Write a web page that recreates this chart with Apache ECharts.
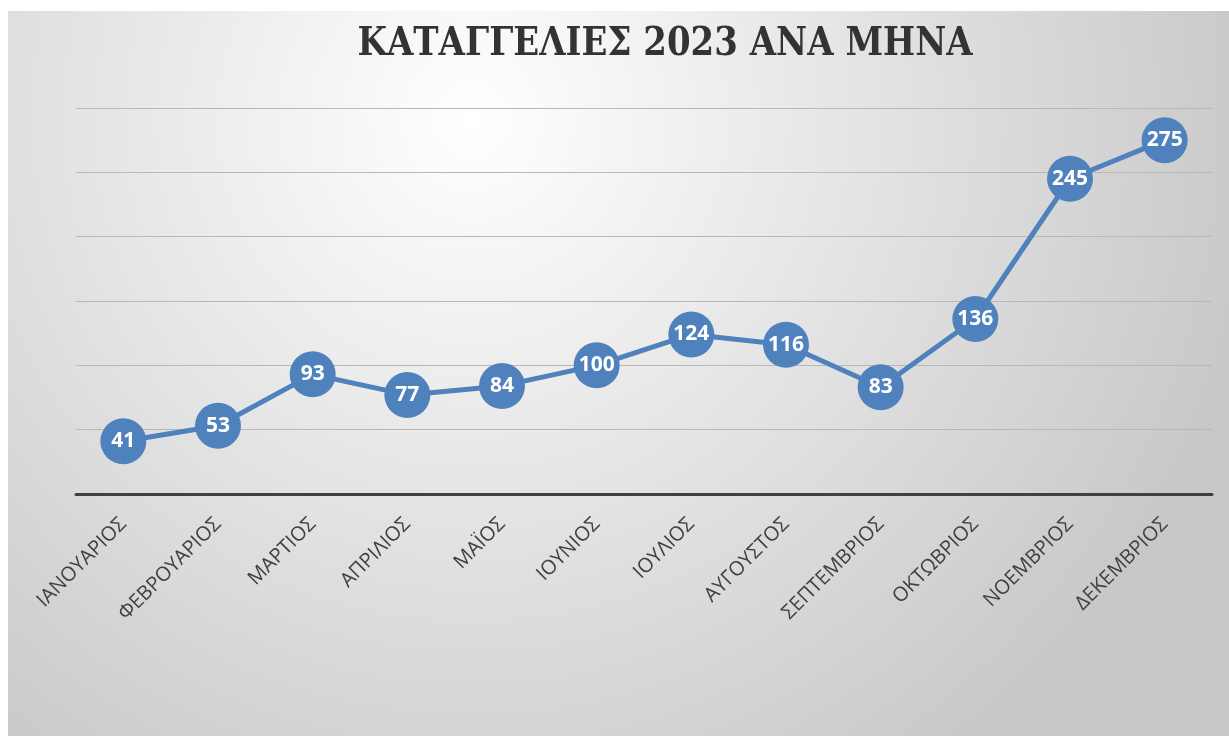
<!DOCTYPE html>
<html>
<head>
<meta charset="utf-8">
<style>
  html, body { margin: 0; padding: 0; background: #ffffff; }
  #chart { width: 1229px; height: 736px; }
</style>
</head>
<body>
<div id="chart"></div>
<script src="https://cdn.jsdelivr.net/npm/echarts@6/dist/echarts.min.js"></script>
<script>
var months = ['ΙΑΝΟΥΑΡΙΟΣ', 'ΦΕΒΡΟΥΑΡΙΟΣ', 'ΜΑΡΤΙΟΣ', 'ΑΠΡΙΛΙΟΣ', 'ΜΑΪΟΣ', 'ΙΟΥΝΙΟΣ',
              'ΙΟΥΛΙΟΣ', 'ΑΥΓΟΥΣΤΟΣ', 'ΣΕΠΤΕΜΒΡΙΟΣ', 'ΟΚΤΩΒΡΙΟΣ', 'ΝΟΕΜΒΡΙΟΣ', 'ΔΕΚΕΜΒΡΙΟΣ'];
var complaints = [41, 53, 93, 77, 84, 100, 124, 116, 83, 136, 245, 275];
var titleText = 'ΚΑΤΑΓΓΕΛΙΕΣ 2023 ΑΝΑ ΜΗΝΑ';

var chart = echarts.init(document.getElementById('chart'));

var option = {
    animation: false,
    graphic: [{
        type: 'rect',
        z: -10,
        shape: { x: 8, y: 11, width: 1221, height: 725 },
        style: {
            fill: {
                type: 'radial', x: 0.38, y: 0.15, r: 1.1,
                colorStops: [
                    { offset: 0, color: '#ffffff' },
                    { offset: 1, color: '#c8c8c8' }
                ]
            }
        }
    }, {
        // title, squeezed a bit to match the width of the original
        type: 'text',
        x: 665,
        y: 25,
        scaleX: 0.85,
        style: {
            text: titleText,
            align: 'center',
            verticalAlign: 'top',
            font: "bold 40px 'DejaVu Serif'",
            fill: '#333333'
        }
    }],
    grid: { left: 76, right: 17, top: 108, bottom: 242 },
    xAxis: {
        type: 'category',
        data: months,
        axisLine: { lineStyle: { color: '#404040', width: 3 } },
        axisTick: { show: false },
        axisLabel: {
            rotate: 45,
            margin: 27,
            fontFamily: "'Open Sans', sans-serif",
            fontSize: 20,
            color: '#404040'
        }
    },
    yAxis: {
        type: 'value',
        min: 0,
        max: 300,
        interval: 50,
        axisLabel: { show: false },
        axisLine: { show: false },
        axisTick: { show: false },
        splitLine: { lineStyle: { color: '#b8b8b8', width: 1 } }
    },
    series: [{
        type: 'line',
        data: complaints,
        symbol: 'circle',
        symbolSize: 46,
        itemStyle: { color: '#4f81bd' },
        lineStyle: { color: '#4f81bd', width: 5 },
        label: {
            show: true,
            position: 'inside',
            color: '#ffffff',
            fontFamily: "'Open Sans', sans-serif",
            fontWeight: 'bold',
            fontSize: 21
        }
    }]
};

chart.setOption(option);
</script>
</body>
</html>
